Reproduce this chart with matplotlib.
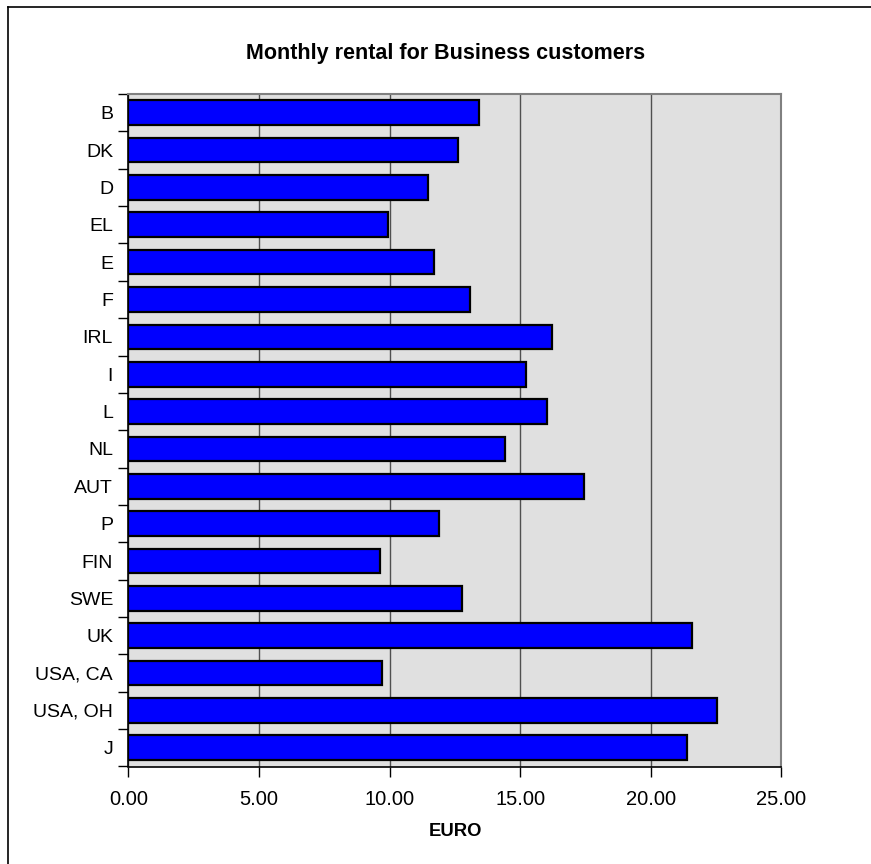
import matplotlib
matplotlib.use("Agg")
import matplotlib.pyplot as plt
from matplotlib.lines import Line2D
import numpy as np

countries = ["B", "DK", "D", "EL", "E", "F", "IRL", "I", "L", "NL", "AUT", "P",
             "FIN", "SWE", "UK", "USA, CA", "USA, OH", "J"]
rental = [13.41, 12.64, 11.49, 9.95, 11.69, 13.09, 16.21, 15.21, 16.03, 14.44,
          17.43, 11.88, 9.64, 12.77, 21.59, 9.71, 22.54, 21.39]
xticks = [0, 5, 10, 15, 20, 25]
title = "Monthly rental for Business customers"
xlabel = "EURO"

plt.rcParams['font.family'] = ['Liberation Sans', 'DejaVu Sans']

W, H = 871, 864
fig = plt.figure(figsize=(W / 100, H / 100), dpi=100)
left, right, top, bottom = 128.3, 781.3, 94.0, 766.5
ax = fig.add_axes([left / W, 1 - bottom / H, (right - left) / W, (bottom - top) / H])
ax.set_facecolor("#E0E0E0")

n = len(countries)
pos = np.arange(n)
ax.barh(pos, rental, height=0.66, color="#0000FF", edgecolor="black",
        linewidth=1.6, zorder=3)

ax.set_xlim(0, 25)
ax.set_ylim(n - 0.5, -0.5)

ax.set_xticks(xticks)
ax.set_xticklabels([f"{v:.2f}" for v in xticks], fontsize=14.5)
ax.xaxis.grid(True, color="#505050", linewidth=1.0, zorder=1)
ax.set_axisbelow(True)

# category boundaries as major ticks, labels at centres as minor ticks
ax.set_yticks(np.arange(-0.5, n, 1.0))
ax.set_yticklabels([])
ax.set_yticks(pos, minor=True)
ax.set_yticklabels(countries, minor=True, fontsize=14)
ax.tick_params(axis="y", which="minor", length=0, pad=11)
ax.tick_params(axis="y", which="major", length=7, width=1.0, color="black", direction="out")
ax.tick_params(axis="x", which="major", length=7, width=1.0, color="black", direction="out", pad=10)

for s in ["top", "right"]:
    ax.spines[s].set_color("#808080")
    ax.spines[s].set_linewidth(1.5)
for s in ["left", "bottom"]:
    ax.spines[s].set_color("black")
    ax.spines[s].set_linewidth(1.2)

fig.text(446 / W, 1 - 54 / H, title, ha="center", va="center",
         fontsize=15.5, fontweight="bold")
fig.text(455 / W, 1 - 832 / H, xlabel, ha="center", va="center",
         fontsize=13.3, fontweight="bold")

# outer chart frame (cut off at right and bottom)
fig.add_artist(Line2D([8 / W, 8 / W], [0, 1 - 7 / H], color="black", linewidth=1.2,
                      transform=fig.transFigure))
fig.add_artist(Line2D([8 / W, 1], [1 - 7 / H, 1 - 7 / H], color="black", linewidth=1.2,
                      transform=fig.transFigure))

fig.savefig("out.png", dpi=100)
